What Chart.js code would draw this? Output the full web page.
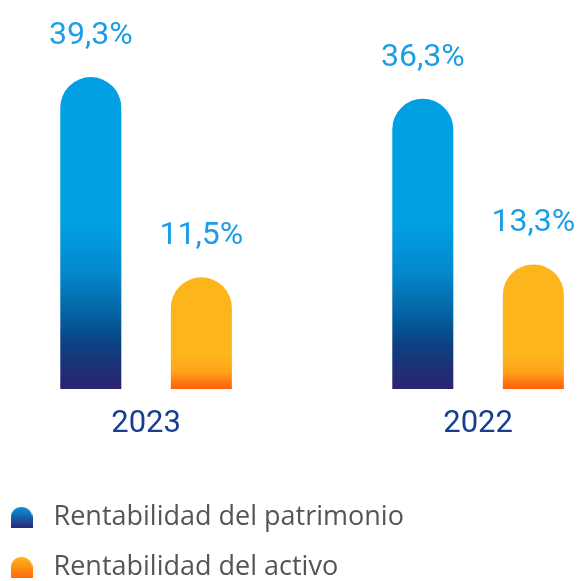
<!DOCTYPE html>
<html>
<head>
<meta charset="utf-8">
<script src="https://cdn.jsdelivr.net/npm/chart.js@4.4.1/dist/chart.umd.min.js"></script>
<style>
html, body { margin: 0; padding: 0; background: #fff; }
</style>
</head>
<body>
<canvas id="plot-1" width="580" height="581"></canvas>
<script>
// Datos del grafico
const anios = ['2023', '2022']
const patrimonio = [39.3, 36.3]
const activo = [11.5, 13.3]
const etiquetas_patrimonio = ['39,3%', '36,3%']
const etiquetas_activo = ['11,5%', '13,3%']
const nombres = ['Rentabilidad del patrimonio', 'Rentabilidad del activo']

const eje_min = -4
const eje_max = 50
// posicion de los grupos en el eje x (indice de cada anio)
const x_min = -0.44
const x_max = 1.307

// colores del degradado (de arriba hacia abajo)
const paradas_azul = [[0, '#00A0E3'], [0.3, '#0487CD'], [0.55, '#0362A1'], [0.72, '#0A4383'], [0.86, '#1C3176'], [1, '#2C2470']]
const paradas_naranja = [[0, '#FDB51C'], [0.5, '#FFA31A'], [1, '#FF5E0A']]

function degradado(c, paradas, alto) {
    const area = c.chart.chartArea
    if (!area) return paradas[0][1]
    const g = c.chart.ctx.createLinearGradient(0, area.bottom - alto, 0, area.bottom)
    paradas.forEach(p => g.addColorStop(p[0], p[1]))
    return g
}

// iconos de la leyenda: cuadrado con la parte de arriba redonda
function icono(arriba, abajo) {
    const cv = document.createElement('canvas')
    cv.width = 22
    cv.height = 21
    const c = cv.getContext('2d')
    const g = c.createLinearGradient(0, 0, 0, 21)
    g.addColorStop(0, arriba)
    g.addColorStop(1, abajo)
    c.fillStyle = g
    c.beginPath()
    c.moveTo(0, 21)
    c.lineTo(0, 11)
    c.arc(11, 11, 11, Math.PI, 0)
    c.lineTo(22, 21)
    c.closePath()
    c.fill()
    return cv
}
const iconos = [icono('#0893DA', '#2B2875'), icono('#FDB51C', '#FF6A0B')]

const textos = [etiquetas_patrimonio, etiquetas_activo]

const etiquetasValor = {
    id: 'etiquetasValor',
    afterDatasetsDraw(chart) {
        const ctx = chart.ctx
        ctx.save()
        ctx.font = '32px Roboto'
        ctx.fillStyle = '#1A9EE8'
        ctx.textAlign = 'center'
        ctx.textBaseline = 'alphabetic'
        chart.data.datasets.forEach((ds, i) => {
            chart.getDatasetMeta(i).data.forEach((barra, j) => {
                ctx.fillText(textos[i][j], barra.x, barra.y - 33)
            })
        })
        ctx.restore()
    }
}

const comunes = {
    categoryPercentage: 0.666,
    barPercentage: 0.552,
    base: eje_min,
    borderRadius: { topLeft: 40, topRight: 40, bottomLeft: 0, bottomRight: 0 },
    borderSkipped: 'bottom',
    borderWidth: 0
}

const grafico = new Chart(document.getElementById('plot-1'), {
    type: 'bar',
    data: {
        datasets: [
            Object.assign({
                label: nombres[0],
                data: patrimonio.map((v, i) => ({ x: i, y: v })),
                backgroundColor: c => degradado(c, paradas_azul, 165)
            }, comunes),
            Object.assign({
                label: nombres[1],
                data: activo.map((v, i) => ({ x: i, y: v })),
                backgroundColor: c => degradado(c, paradas_naranja, 34)
            }, comunes)
        ]
    },
    options: {
        responsive: false,
        animation: false,
        events: [],
        devicePixelRatio: 1,
        layout: { padding: { left: -20, right: 0, top: 0, bottom: -10 } },
        scales: {
            x: {
                type: 'linear',
                offset: false,
                min: x_min,
                max: x_max,
                grid: { display: false, drawTicks: false },
                border: { display: false },
                afterBuildTicks: s => { s.ticks = anios.map((a, i) => ({ value: i })) },
                ticks: {
                    padding: 17,
                    color: '#163E92',
                    font: { family: 'Roboto', size: 31 },
                    callback: v => anios[v]
                },
                afterFit: s => { s.height = 92 }
            },
            y: { display: false, min: eje_min, max: eje_max }
        },
        plugins: {
            tooltip: { enabled: false },
            legend: {
                position: 'bottom',
                align: 'start',
                labels: {
                    usePointStyle: true,
                    pointStyleWidth: 37,
                    padding: 23,
                    color: '#555555',
                    font: { family: 'Open Sans', size: 27 },
                    generateLabels(chart) {
                        const items = Chart.defaults.plugins.legend.labels.generateLabels(chart)
                        items.forEach((it, i) => { it.pointStyle = iconos[i] })
                        return items
                    }
                }
            }
        }
    },
    plugins: [etiquetasValor]
})
</script>
</body>
</html>
